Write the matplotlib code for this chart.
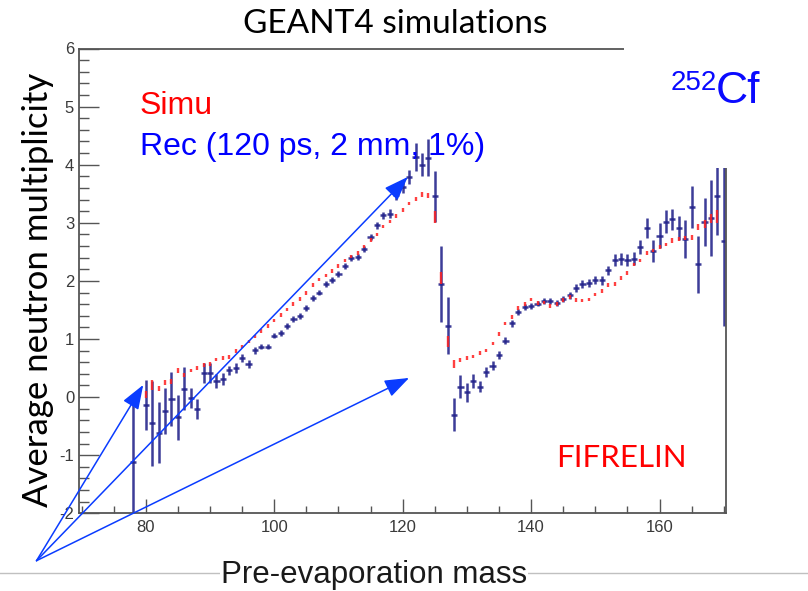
import numpy as np
import matplotlib
matplotlib.use("Agg")
import matplotlib.pyplot as plt
from matplotlib.patches import Rectangle
from matplotlib.lines import Line2D
from matplotlib.ticker import MultipleLocator

plt.rcParams["axes.unicode_minus"] = False

# reconstructed neutron multiplicity (Rec) per pre-evaporation mass
rec_mass = [78] + list(range(80, 171))
rec_nu = [-1.12,
          -0.13, -0.45, -0.61, -0.24, -0.03, -0.35, 0.14, -0.02, -0.21, 0.41,
          0.41, 0.27, 0.31, 0.46, 0.50, 0.68, 0.57, 0.81, 0.87, 0.87,
          1.06, 1.11, 1.23, 1.35, 1.39, 1.53, 1.71, 1.80, 1.95, 2.02,
          2.12, 2.26, 2.40, 2.41, 2.55, 2.75, 2.96, 3.13, 3.16, 3.47,
          3.62, 3.79, 4.13, 4.00, 4.12, 3.46, 1.95, 1.23, -0.30, 0.18,
          0.08, 0.28, 0.18, 0.43, 0.54, 0.73, 0.97, 1.27, 1.46, 1.55,
          1.57, 1.61, 1.65, 1.65, 1.62, 1.69, 1.75, 1.88, 1.94, 1.96,
          2.01, 2.01, 2.18, 2.36, 2.38, 2.36, 2.38, 2.58, 2.91, 2.51,
          2.78, 3.02, 3.06, 2.91, 2.72, 3.27, 2.29, 3.01, 3.08, 3.46,
          2.68]
rec_err = [1.05,
           0.43, 0.73, 0.52, 0.39, 0.46, 0.39, 0.37, 0.17, 0.17, 0.17,
           0.17, 0.12, 0.10, 0.08, 0.08, 0.07, 0.07, 0.06, 0.05, 0.05,
           0.05, 0.05, 0.05, 0.05, 0.05, 0.05, 0.05, 0.05, 0.05, 0.05,
           0.05, 0.05, 0.05, 0.05, 0.05, 0.05, 0.06, 0.06, 0.07, 0.08,
           0.10, 0.12, 0.24, 0.20, 0.32, 0.44, 0.65, 0.49, 0.28, 0.20,
           0.16, 0.12, 0.10, 0.08, 0.08, 0.07, 0.06, 0.06, 0.05, 0.05,
           0.05, 0.05, 0.05, 0.05, 0.05, 0.05, 0.06, 0.07, 0.07, 0.07,
           0.07, 0.08, 0.08, 0.10, 0.10, 0.10, 0.11, 0.12, 0.17, 0.19,
           0.21, 0.20, 0.18, 0.21, 0.32, 0.36, 0.49, 0.41, 0.65, 0.67,
           1.46]

# simulated neutron multiplicity (Simu)
sim_mass = list(range(80, 170))
sim_nu = [0.04, 0.21, 0.15, 0.25, 0.27, 0.46, 0.38, 0.46, 0.50, 0.55,
          0.57, 0.65, 0.67, 0.69, 0.79, 0.87, 0.96, 1.04, 1.14, 1.22,
          1.32, 1.41, 1.51, 1.60, 1.69, 1.79, 1.93, 2.02, 2.09, 2.17,
          2.26, 2.35, 2.42, 2.48, 2.59, 2.70, 2.80, 2.94, 3.02, 3.12,
          3.22, 3.33, 3.41, 3.49, 3.47, 3.10, 2.05, 0.96, 0.57, 0.64,
          0.67, 0.70, 0.76, 0.80, 0.92, 1.09, 1.27, 1.38, 1.53, 1.60,
          1.68, 1.62, 1.63, 1.57, 1.60, 1.67, 1.72, 1.67, 1.66, 1.68,
          1.77, 1.83, 1.93, 1.95, 2.05, 2.14, 2.28, 2.35, 2.48, 2.52,
          2.58, 2.63, 2.70, 2.72, 2.74, 2.75, 2.93, 2.98, 3.07, 3.11]
sim_err = [0.06, 0.09, 0.04, 0.04, 0.04, 0.04, 0.03, 0.03, 0.03, 0.03,
           0.03, 0.03, 0.03, 0.03, 0.03, 0.03, 0.03, 0.03, 0.03, 0.03,
           0.03, 0.03, 0.03, 0.03, 0.03, 0.03, 0.03, 0.03, 0.03, 0.03,
           0.03, 0.03, 0.03, 0.03, 0.03, 0.03, 0.03, 0.03, 0.03, 0.03,
           0.03, 0.03, 0.04, 0.04, 0.05, 0.11, 0.10, 0.09, 0.07, 0.03,
           0.03, 0.03, 0.03, 0.03, 0.03, 0.03, 0.03, 0.03, 0.03, 0.03,
           0.03, 0.03, 0.03, 0.03, 0.03, 0.03, 0.03, 0.03, 0.03, 0.03,
           0.03, 0.03, 0.03, 0.03, 0.03, 0.03, 0.03, 0.03, 0.03, 0.03,
           0.03, 0.03, 0.04, 0.04, 0.04, 0.04, 0.05, 0.07, 0.08, 0.11]

# arrow heads (mass, multiplicity) all starting from one point below the frame
arrow_tips = [(79.6, 0.21), (120.8, 3.79), (121.0, 0.33)]

W, H = 808, 591
BLUE_TXT = "#0a0aff"
ARROW = "#0a3cff"
REC_COL = "#22228a"
SIM_COL = "#ff2020"
AXIS_COL = "#555555"

fig = plt.figure(figsize=(W / 100, H / 100), dpi=100)
ax = fig.add_axes([79 / W, 1 - 513.3 / H, (725.7 - 79) / W, 464.8 / H])

ax.errorbar(rec_mass, rec_nu, yerr=rec_err, xerr=0.48, fmt="none",
            ecolor=REC_COL, elinewidth=1.8, capsize=0, alpha=0.88, zorder=2)
ax.errorbar(sim_mass, sim_nu, yerr=sim_err, fmt="none",
            ecolor=SIM_COL, elinewidth=1.7, capsize=0, alpha=0.85, zorder=3)

ax.set_xlim(69.6, 170.3)
ax.set_ylim(-2, 6)
ax.xaxis.set_major_locator(MultipleLocator(20))
ax.xaxis.set_minor_locator(MultipleLocator(5))
ax.yaxis.set_major_locator(MultipleLocator(1))
ax.yaxis.set_minor_locator(MultipleLocator(0.2))
ax.tick_params(which="both", direction="in", color=AXIS_COL, width=1.0,
               labelcolor="#3a3a3a", labelsize=12)
ax.tick_params(axis="y", which="major", length=14.4, pad=3.5)
ax.tick_params(axis="y", which="minor", length=7.2)
ax.tick_params(axis="x", which="major", length=10, pad=4.5)
ax.tick_params(axis="x", which="minor", length=5)
for lab in ax.get_xticklabels() + ax.get_yticklabels():
    lab.set_family("Liberation Sans")
for sp in ax.spines.values():
    sp.set_color(AXIS_COL)
    sp.set_linewidth(1.3)

# arrows from the lower-left corner to the three regions
for tip in arrow_tips:
    ax.annotate("", xy=tip, xycoords="data",
                xytext=(36.5 / W, 1 - 560.7 / H), textcoords="figure fraction",
                arrowprops=dict(arrowstyle="-|>,head_length=1.5,head_width=0.55",
                                color=ARROW, lw=1.1, shrinkA=0, shrinkB=0,
                                mutation_scale=10),
                annotation_clip=False, zorder=6)

# legend-like labels
ax.text(0.0943, 0.859, "Simu", transform=ax.transAxes, color="#ff0000",
        fontsize=23, family="Liberation Sans", va="baseline")
ax.text(0.0943, 0.771, "Rec (120 ps, 2 mm, 1%)", transform=ax.transAxes,
        color="#0000ff", fontsize=23, family="Liberation Sans", va="baseline")

# blank box in the upper right with the isotope label
fig.add_artist(Rectangle((624 / W, 1 - 168 / H), 1 - 624 / W, 168 / H,
                         transform=fig.transFigure, facecolor="white",
                         edgecolor="none", zorder=2.5))
fig.text(671 / W, 1 - 90 / H, "252", fontsize=20, color=BLUE_TXT,
         family="Liberation Sans", va="baseline", zorder=5)
fig.text(716 / W, 1 - 103.3 / H, "Cf", fontsize=32, color=BLUE_TXT,
         family="Liberation Sans", va="baseline", zorder=5)

fig.text(556 / W, 1 - 467 / H, "FIFRELIN", fontsize=22.5, color="#ff0000",
         family="Lato", va="baseline", zorder=5)

fig.text(395 / W, 1 - 24 / H, "GEANT4 simulations", fontsize=24,
         family="Lato", ha="center", va="center")
fig.text(38 / W, 1 - 290 / H, "Average neutron multiplicity", fontsize=25,
         family="Lato", rotation=90, ha="center", va="center")

# separator line under the plot, interrupted by the axis title
fig.add_artist(Line2D([0, 1], [1 - 572.7 / H] * 2, transform=fig.transFigure,
                      color="#c0c0c0", lw=1.0, zorder=1))
fig.text(374 / W, 1 - 583 / H, "Pre-evaporation mass", fontsize=22.5,
         family="Liberation Sans", color="#1a1a1a", ha="center", va="baseline",
         bbox=dict(facecolor="white", edgecolor="none", pad=1), zorder=2)

fig.savefig("out.png", dpi=100)
